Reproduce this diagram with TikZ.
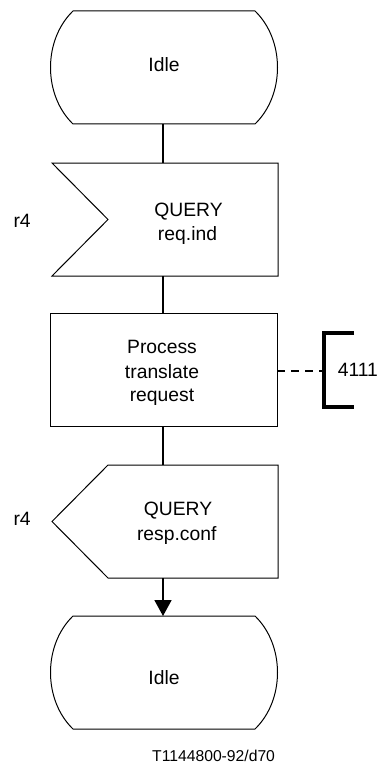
\documentclass[tikz,border=0pt]{standalone}
\usepackage{fontspec}
\setmainfont{Liberation Sans}
\usetikzlibrary{arrows.meta}
\begin{document}
\begin{tikzpicture}[x=1pt,y=-1pt,
  shapeline/.style={draw=black,line width=1pt,line join=miter},
  area/.style={inner sep=0pt,outer sep=0pt,draw=none},
  conn/.style={draw=black,line width=1.8pt},
  refline/.style={draw=black,line width=1.6pt,dash pattern=on 8pt off 6pt},
  bracketline/.style={draw=black,line width=4pt,line join=miter},
  lbl/.style={inner sep=0pt,font=\fontsize{19.3}{23}\selectfont,anchor=base},
  lblw/.style={inner sep=0pt,font=\fontsize{19.3}{23}\selectfont,anchor=base west},
  footlbl/.style={inner sep=0pt,font=\fontsize{15.7}{19}\selectfont,anchor=base west}]
\fill[white] (0,0) rectangle (382,765);
\useasboundingbox (0,0) rectangle (382,765);

% areas of the symbols (connector end points)
\node[area,minimum width=227pt,minimum height=113pt] (idleA) at (163,67.5) {};
\node[area,minimum width=226pt,minimum height=113pt] (inA) at (163,219.5) {};
\node[area,minimum width=227pt,minimum height=113pt] (proc) at (163,369.5) {};
\node[area,minimum width=226pt,minimum height=113pt] (outA) at (163,521.5) {};
\node[area,minimum width=227pt,minimum height=113pt] (idleB) at (163,672.5) {};
\node[area,minimum width=32pt,minimum height=78pt] (ref) at (338,371) {};
\coordinate (procE) at (277,371);

% state symbols
\path[shapeline] (73,11) -- (255,11) .. controls (285,40) and (285,95) .. (255,124)
  -- (73,124) .. controls (43,95) and (43,40) .. (73,11) -- cycle;
\path[shapeline] (73,616) -- (255,616) .. controls (285,645) and (285,700) .. (255,729)
  -- (73,729) .. controls (43,700) and (43,645) .. (73,616) -- cycle;

% input signal
\path[shapeline] (52,163) -- (278,163) -- (278,276) -- (52,276) -- (108,219.5) -- cycle;
% process
\path[shapeline] (50,313) rectangle (277,426);
% output signal
\path[shapeline] (108,465) -- (278,465) -- (278,578) -- (108,578) -- (52,521.5) -- cycle;

% bracket
\path[bracketline] (354,332.5) -- (324,332.5) -- (324,407) -- (354,407);

% connectors
\draw[conn] (idleA.south) -- (inA.north);
\draw[conn] (inA.south) -- (proc.north);
\draw[conn] (proc.south) -- (outA.north);
\draw[conn,-{Triangle[width=17pt,length=16pt]}] (outA.south) -- (idleB.north);
\draw[refline] (procE) -- (procE -| ref.west);

% texts
\node[lbl] (t1) at (164,71.7) {Idle};
\node[lbl] (t2a) at (188.5,216) {QUERY};
\node[lbl] (t2b) at (187.5,240.5) {req.ind};
\node[lblw] (r4a) at (13.3,227.7) {r4};
\node[lbl] (t3a) at (162,353.3) {Process};
\node[lbl] (t3b) at (162,378) {translate};
\node[lbl] (t3c) at (162,401.7) {request};
\node[lblw] (n4111) at (337.7,376.5) {4111};
\node[lbl] (t4a) at (178,515.5) {QUERY};
\node[lbl] (t4b) at (176.7,540) {resp.conf};
\node[lblw] (r4b) at (13.3,525.7) {r4};
\node[lbl] (t5) at (164,684.3) {Idle};
\node[footlbl] (foot) at (152,761.7) {T1144800-92/d70};
\end{tikzpicture}
\end{document}
